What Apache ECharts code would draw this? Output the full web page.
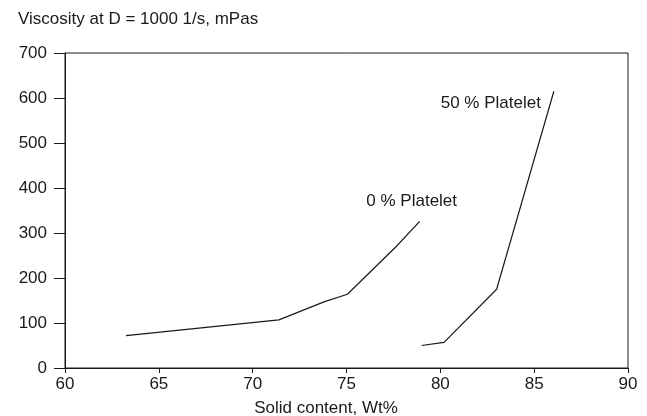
<!DOCTYPE html>
<html>
<head>
<meta charset="utf-8">
<script src="https://cdn.jsdelivr.net/npm/echarts@6/dist/echarts.min.js"></script>
<style>
	html, body { margin: 0; padding: 0; background: #fff; }
	#chart { width: 647px; height: 416px; }
</style>
</head>
<body>
<div id="chart"></div>
<script>
	// 数据：0 % 与 50 % 两条曲线
	var zeroX = [63.25, 71.4, 73.8, 75.05, 77.65, 78.9];
	var zeroY = [72, 107, 147, 164, 270, 326];
	var fiftyX = [79.0, 80.2, 83.0, 86.05];
	var fiftyY = [50, 57, 175, 615];
	var xTicks = [60, 65, 70, 75, 80, 85, 90];
	var yTicks = [0, 100, 200, 300, 400, 500, 600, 700];

	var FONT = 'Liberation Sans';
	var INK = '#1a1a1a';
	var FS = 17;

	function pairs(xs, ys) {
		var out = [];
		for (var i = 0; i < xs.length; i++) {
			out.push([xs[i], ys[i]]);
		}
		return out;
	}

	var chart = echarts.init(document.getElementById('chart'), null, { renderer : 'canvas' });
	var option = {
		animation : false,
		textStyle : { fontFamily : FONT, color : INK },
		title : [ {
			text : 'Viscosity at D = 1000 1/s, mPas',
			left : 13,
			top : 6,
			textStyle : { fontFamily : FONT, fontSize : FS, fontWeight : 'normal', color : INK }
		}, {
			text : 'Solid content, Wt%',
			left : 321,
			top : 395,
			textAlign : 'center',
			textStyle : { fontFamily : FONT, fontSize : FS, fontWeight : 'normal', color : INK }
		} ],
		grid : {
			left : 65,
			right : 19,
			top : 53,
			bottom : 48,
			show : true,
			borderColor : INK,
			borderWidth : 1
		},
		xAxis : {
			type : 'value',
			min : xTicks[0],
			max : xTicks[xTicks.length - 1],
			interval : 5,
			splitLine : { show : false },
			axisLine : { lineStyle : { color : INK, width : 1 } },
			axisTick : { show : true, inside : false, length : 5, lineStyle : { color : INK } },
			axisLabel : { fontFamily : FONT, fontSize : FS, color : INK, margin : 8 }
		},
		yAxis : {
			type : 'value',
			min : yTicks[0],
			max : yTicks[yTicks.length - 1],
			interval : 100,
			splitLine : { show : false },
			axisLine : { show : true, lineStyle : { color : INK, width : 1 } },
			axisTick : { show : true, inside : false, length : 11, lineStyle : { color : INK } },
			axisLabel : { fontFamily : FONT, fontSize : FS, color : INK, margin : 18 }
		},
		series : [ {
			name : '0 % Platelet',
			type : 'line',
			data : pairs(zeroX, zeroY),
			showSymbol : false,
			symbol : 'none',
			lineStyle : { color : INK, width : 1.2 },
			endLabel : {
				show : true,
				formatter : '0 % Platelet',
				distance : 0,
				align : 'center',
				verticalAlign : 'middle',
				offset : [ -8, -20 ],
				fontFamily : FONT,
				fontSize : FS,
				color : INK
			}
		}, {
			name : '50 % Platelet',
			type : 'line',
			data : pairs(fiftyX, fiftyY),
			showSymbol : false,
			symbol : 'none',
			lineStyle : { color : INK, width : 1.2 },
			endLabel : {
				show : true,
				formatter : '50 % Platelet',
				distance : 0,
				align : 'right',
				verticalAlign : 'middle',
				offset : [ -13, 12 ],
				fontFamily : FONT,
				fontSize : FS,
				color : INK
			}
		} ]
	};
	chart.setOption(option);
</script>
</body>
</html>
